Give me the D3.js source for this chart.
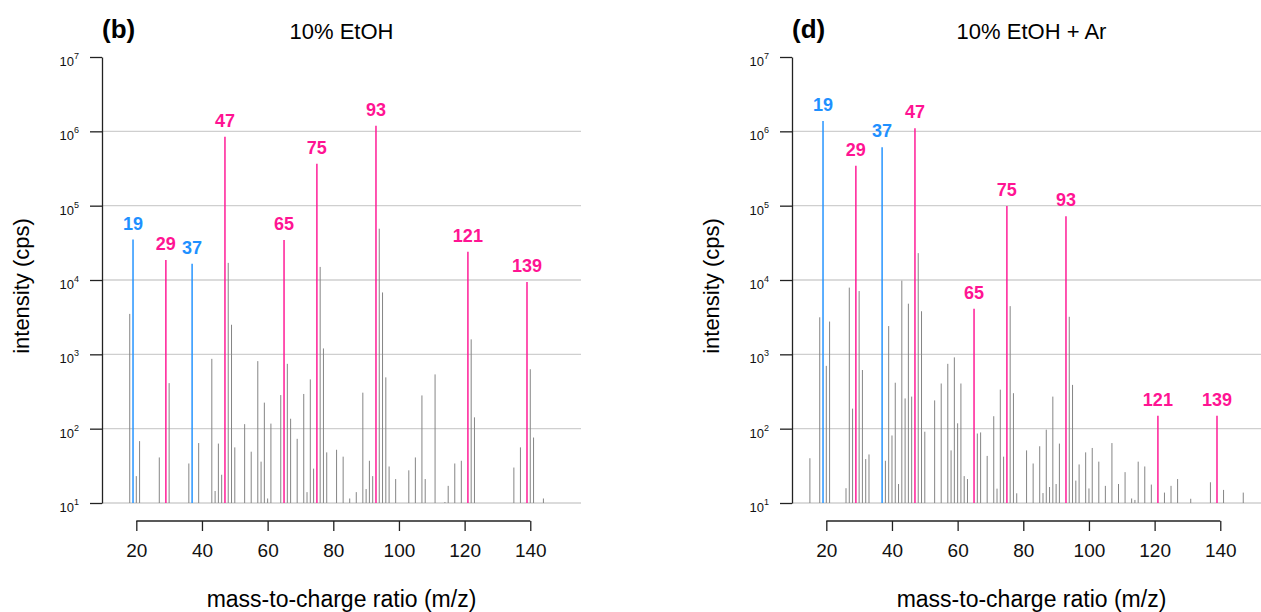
<!DOCTYPE html>
<html>
<head>
<meta charset="utf-8">
<script src="https://cdn.jsdelivr.net/npm/d3@7"></script>
<style>
  body { margin: 0; background: #fff; }
  svg text { font-family: "Liberation Sans", Arial, sans-serif; }
</style>
</head>
<body>
<script>
'use strict';

// panel (b): 10% EtOH  -- gray background peaks
const mzB = [18, 20, 21, 27, 30, 36, 39, 43, 44, 45, 46, 48, 49, 50, 53, 55, 57, 58, 59, 60,
  61, 64, 66, 67, 69, 71, 72, 73, 74, 76, 77, 78, 81, 83, 85, 87, 89, 90, 91, 92,
  94, 95, 96, 97, 99, 103, 105, 107, 108, 111, 114, 115, 117, 119, 122, 123, 135, 137, 140, 141, 144];
const cpsB = [3500, 23, 68, 41, 410, 34, 64, 870, 14.5, 63, 24, 17000, 2500, 56, 115, 49, 810, 36, 224, 11.5,
  117, 283, 745, 136, 73, 293, 14, 460, 29, 15000, 1200, 48, 52, 42, 11.5, 14, 305, 15.4, 37, 23,
  49000, 6800, 490, 31, 21, 27.5, 41, 280, 21, 537, 10.3, 17, 34, 37, 1590, 142, 30, 56, 630, 76, 11.5];

// panel (b): labelled peaks
const peakMzB = [19, 29, 37, 47, 65, 75, 93, 121, 139];
const peakCpsB = [35000, 18600, 16500, 843000, 34600, 366000, 1190000, 24000, 9400];
const peakKindB = ["blue", "pink", "blue", "pink", "pink", "pink", "pink", "pink", "pink"];

// panel (d): 10% EtOH + Ar -- gray background peaks
const mzD = [15, 18, 20, 21, 26, 27, 28, 30, 31, 32, 33, 38, 39, 40, 41, 42, 43, 44, 45, 46,
  48, 49, 50, 53, 55, 57, 58, 59, 60, 61, 62, 63, 66, 67, 69, 71, 72, 73, 74, 76,
  77, 78, 81, 83, 85, 86, 87, 88, 89, 90, 91, 94, 95, 96, 97, 99, 100, 101, 103, 105,
  107, 109, 111, 113, 114, 115, 117, 119, 123, 125, 127, 131, 137, 141, 147];
const cpsD = [40, 3150, 700, 2760, 15.8, 7900, 186, 7100, 615, 39, 45, 37, 2400, 81, 415, 18, 9800, 255, 4800, 270,
  23000, 3800, 91, 240, 405, 745, 51, 910, 118, 405, 23, 21, 86, 89, 43, 147, 15.6, 335, 42, 4450,
  300, 13.5, 51, 34, 58, 13.6, 97, 16.4, 270, 18, 63, 3200, 388, 20, 33, 48, 15.7, 55, 36, 17,
  64, 18, 26, 11.5, 11, 36, 31, 17.7, 13.8, 17, 21, 11.4, 19, 15, 13.8];

// panel (d): labelled peaks
const peakMzD = [19, 29, 37, 47, 65, 75, 93, 121, 139];
const peakCpsD = [1380000, 344000, 613000, 1100000, 4100, 99000, 72000, 149, 149];
const peakKindD = ["blue", "pink", "blue", "pink", "pink", "pink", "pink", "pink", "pink"];

// axis ticks
const xTicks = [20, 40, 60, 80, 100, 120, 140];
const yExponents = [1, 2, 3, 4, 5, 6, 7];

(function() {

  const colors = { blue: "#1E90FF", pink: "#FF1493" };
  let svg = "";

  window.onload = function() {
    svg = d3.select('body')
      .append('svg')
      .attr('width', 1261)
      .attr('height', 612);

    drawPanel(0, "(b)", "10% EtOH", mzB, cpsB, peakMzB, peakCpsB, peakKindB);
    drawPanel(690, "(d)", "10% EtOH + Ar", mzD, cpsD, peakMzD, peakCpsD, peakKindD);
  }

  // one spectrum panel, shifted right by dx
  function drawPanel(dx, tag, title, mz, cps, pMz, pCps, pKind) {
    let g = svg.append('g').attr('transform', 'translate(' + dx + ',0)');

    let xScale = d3.scaleLinear().domain([9.55, 155.45]).range([102, 581]);
    let yScale = d3.scaleLog().domain([10, 1e7]).range([503, 57]);

    // horizontal grid lines (10^1 .. 10^6)
    g.selectAll('.grid')
      .data(yExponents.slice(0, 6))
      .enter()
      .append('line')
        .attr('x1', xScale.range()[0])
        .attr('x2', xScale.range()[1])
        .attr('y1', d => yScale(Math.pow(10, d)))
        .attr('y2', d => yScale(Math.pow(10, d)))
        .attr('stroke', '#cfcfcf')
        .attr('stroke-width', 1.4);

    // gray sticks
    let gray = mz.map((m, i) => ({ m: m, v: cps[i] }));
    g.selectAll('.stick')
      .data(gray)
      .enter()
      .append('line')
        .attr('x1', d => xScale(d.m))
        .attr('x2', d => xScale(d.m))
        .attr('y1', yScale(10))
        .attr('y2', d => yScale(d.v))
        .attr('stroke', '#858585')
        .attr('stroke-width', 1);

    // coloured sticks and their labels
    let peaks = pMz.map((m, i) => ({ m: m, v: pCps[i], c: colors[pKind[i]] }));
    g.selectAll('.peak')
      .data(peaks)
      .enter()
      .append('line')
        .attr('x1', d => xScale(d.m))
        .attr('x2', d => xScale(d.m))
        .attr('y1', yScale(10))
        .attr('y2', d => yScale(d.v))
        .attr('stroke', d => d.c)
        .attr('stroke-opacity', 0.85)
        .attr('stroke-width', 1.7);

    g.selectAll('.peakLabel')
      .data(peaks)
      .enter()
      .append('text')
        .attr('x', d => xScale(d.m))
        .attr('y', d => yScale(d.v) - 10)
        .attr('text-anchor', 'middle')
        .style('font-size', '18px')
        .style('font-weight', 'bold')
        .attr('fill', d => d.c)
        .text(d => d.m);

    // y axis with log ticks
    let yAxis = d3.axisLeft(yScale)
      .tickValues(yExponents.map(e => Math.pow(10, e)))
      .tickFormat('')
      .tickSize(12)
      .tickSizeOuter(0);
    let ya = g.append('g')
      .attr('transform', 'translate(' + xScale.range()[0] + ',0)')
      .call(yAxis);
    ya.selectAll('path, line').attr('stroke', '#222').attr('stroke-width', 1.3);

    let yLab = g.selectAll('.ytick')
      .data(yExponents)
      .enter()
      .append('text')
        .attr('x', 79)
        .attr('y', d => yScale(Math.pow(10, d)) + 9)
        .attr('text-anchor', 'end')
        .style('font-size', '13px')
        .attr('fill', '#111');
    yLab.append('tspan').text('10');
    yLab.append('tspan')
      .attr('dy', -7)
      .style('font-size', '9px')
      .text(d => d);

    // x axis, only from 20 to 140, below the plot
    let xAxis = d3.axisBottom(xScale)
      .tickValues(xTicks)
      .tickSize(10)
      .tickPadding(13)
      .tickSizeOuter(0);
    let xa = g.append('g')
      .attr('transform', 'translate(0,521)')
      .call(xAxis);
    xa.select('.domain').remove();
    xa.append('line')
      .attr('x1', xScale(xTicks[0]))
      .attr('x2', xScale(xTicks[xTicks.length - 1]))
      .attr('stroke', '#222')
      .attr('stroke-width', 1.3);
    xa.selectAll('.tick line').attr('stroke', '#222').attr('stroke-width', 1.3);
    xa.selectAll('.tick text')
      .style('font-size', '19px')
      .style('font-family', '"Liberation Sans", Arial, sans-serif')
      .attr('fill', '#111');

    // titles and axis labels
    let midX = (xScale.range()[0] + xScale.range()[1]) / 2;
    g.append('text')
      .attr('x', 102)
      .attr('y', 38)
      .style('font-size', '26px')
      .style('font-weight', 'bold')
      .text(tag);

    g.append('text')
      .attr('x', midX)
      .attr('y', 39)
      .attr('text-anchor', 'middle')
      .style('font-size', '22px')
      .text(title);

    g.append('text')
      .attr('x', midX)
      .attr('y', 607)
      .attr('text-anchor', 'middle')
      .style('font-size', '23px')
      .text('mass-to-charge ratio (m/z)');

    g.append('text')
      .attr('transform', 'translate(29, 286)rotate(-90)')
      .attr('text-anchor', 'middle')
      .style('font-size', '22px')
      .text('intensity (cps)');
  }
})();
</script>
</body>
</html>
